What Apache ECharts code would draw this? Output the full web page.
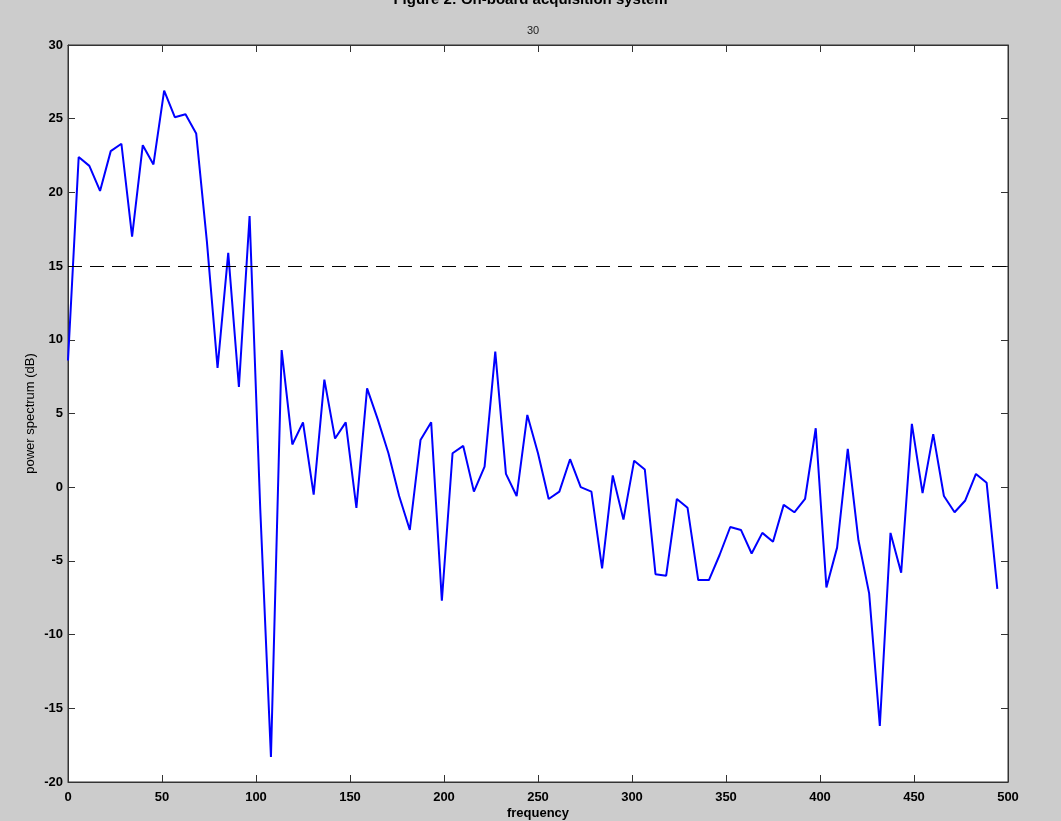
<!DOCTYPE html>
<html>
<head>
<meta charset="utf-8">
<script src="https://cdn.jsdelivr.net/npm/echarts@6/dist/echarts.min.js"></script>
<style>
html,body{margin:0;padding:0;background:#cccccc;}
#chart{width:1061px;height:821px;}
</style>
</head>
<body>
<div id="chart"></div>
<script>
// frequency of each sample
var frequency = [0, 5.68, 11.36, 17.05, 22.73, 28.41, 34.09, 39.77, 45.45, 51.14,
  56.82, 62.5, 68.18, 73.86, 79.55, 85.23, 90.91, 96.59, 102.27, 107.95,
  113.64, 119.32, 125.0, 130.68, 136.36, 142.05, 147.73, 153.41, 159.09, 164.77,
  170.45, 176.14, 181.82, 187.5, 193.18, 198.86, 204.55, 210.23, 215.91, 221.59,
  227.27, 232.95, 238.64, 244.32, 250.0, 255.68, 261.36, 267.05, 272.73, 278.41,
  284.09, 289.77, 295.45, 301.14, 306.82, 312.5, 318.18, 323.86, 329.55, 335.23,
  340.91, 346.59, 352.27, 357.95, 363.64, 369.32, 375.0, 380.68, 386.36, 392.05,
  397.73, 403.41, 409.09, 414.77, 420.45, 426.14, 431.82, 437.5, 443.18, 448.86,
  454.55, 460.23, 465.91, 471.59, 477.27, 482.95, 488.64, 494.32];

// power spectrum in dB
var powerDb = [8.6, 22.4, 21.8, 20.1, 22.8, 23.3, 17.0, 23.2, 21.9, 26.9,
  25.1, 25.3, 24.0, 16.7, 8.1, 15.9, 6.8, 18.4, -1.5, -18.3,
  9.3, 2.9, 4.4, -0.5, 7.3, 3.3, 4.4, -1.4, 6.7, 4.6,
  2.3, -0.6, -2.9, 3.2, 4.4, -7.7, 2.3, 2.8, -0.3, 1.4,
  9.2, 0.9, -0.6, 4.9, 2.3, -0.8, -0.3, 1.9, 0.0, -0.3,
  -5.5, 0.8, -2.2, 1.8, 1.2, -5.9, -6.0, -0.8, -1.4, -6.3,
  -6.3, -4.6, -2.7, -2.9, -4.5, -3.1, -3.7, -1.2, -1.7, -0.8,
  4.0, -6.8, -4.1, 2.6, -3.6, -7.2, -16.2, -3.1, -5.8, 4.3,
  -0.4, 3.6, -0.6, -1.7, -0.9, 0.9, 0.3, -6.9];

var thresholdDb = 15;
var xTicks = [0, 50, 100, 150, 200, 250, 300, 350, 400, 450, 500];
var yTicks = [-20, -15, -10, -5, 0, 5, 10, 15, 20, 25, 30];
var titleText = 'Figure 2: On-board acquisition system';
var subText = '30';
var xName = 'frequency';
var yName = 'power spectrum (dB)';

var pts = frequency.map(function (f, i) { return [f, powerDb[i]]; });

var font = '"Liberation Sans", Arial, sans-serif';
var axisColor = '#333333';
var labelStyle = { color: '#000', fontSize: 13, fontWeight: 'bold', fontFamily: font };
var tick = { show: true, inside: true, length: 7, lineStyle: { color: axisColor } };
var line = { show: true, onZero: false, lineStyle: { color: axisColor } };

var chart = echarts.init(document.getElementById('chart'), null, { renderer: 'canvas' });
chart.setOption({
  animation: false,
  backgroundColor: '#cccccc',
  title: {
    text: titleText,
    left: 'center',
    top: -13,
    textStyle: { fontSize: 15, fontWeight: 'bold', color: '#000', fontFamily: font }
  },
  graphic: [{
    type: 'text',
    left: 527,
    top: 25,
    style: { text: subText, fill: '#222', font: '11px ' + font }
  }],
  grid: {
    left: 68, right: 53, top: 45, bottom: 39,
    containLabel: false, outerBoundsMode: 'none',
    show: true, backgroundColor: '#ffffff', borderColor: axisColor, borderWidth: 1
  },
  xAxis: [{
    type: 'value', min: xTicks[0], max: xTicks[xTicks.length - 1], interval: 50,
    name: xName, nameLocation: 'middle', nameGap: 25, nameMoveOverlap: false,
    nameTextStyle: { color: '#000', fontSize: 13, fontWeight: 'bold', fontFamily: font },
    axisLine: line, axisTick: tick,
    axisLabel: Object.assign({ margin: 9 }, labelStyle),
    splitLine: { show: false }
  }, {
    type: 'value', position: 'top', min: xTicks[0], max: xTicks[xTicks.length - 1], interval: 50,
    axisLine: line, axisTick: tick,
    axisLabel: { show: false }, splitLine: { show: false }
  }],
  yAxis: [{
    type: 'value', min: yTicks[0], max: yTicks[yTicks.length - 1], interval: 5,
    name: yName, nameLocation: 'middle', nameGap: 31, nameMoveOverlap: false,
    nameTextStyle: { color: '#000', fontSize: 13, fontFamily: font },
    axisLine: line, axisTick: tick,
    axisLabel: Object.assign({ margin: 5 }, labelStyle),
    splitLine: { show: false }
  }, {
    type: 'value', position: 'right', min: yTicks[0], max: yTicks[yTicks.length - 1], interval: 5,
    axisLine: line, axisTick: tick,
    axisLabel: { show: false }, splitLine: { show: false }
  }],
  series: [{
    type: 'line',
    data: pts,
    showSymbol: false,
    symbol: 'none',
    lineStyle: { color: '#0000ff', width: 2 },
    markLine: {
      silent: true, symbol: 'none', label: { show: false },
      lineStyle: { color: '#000', type: [14, 8], width: 1 },
      data: [{ yAxis: thresholdDb }]
    }
  }]
});
</script>
</body>
</html>
